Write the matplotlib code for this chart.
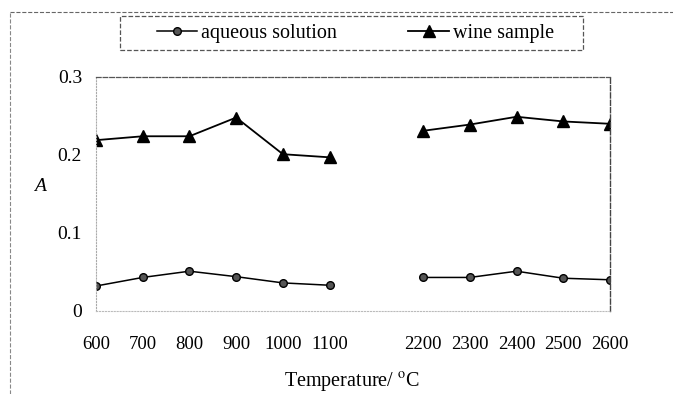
import numpy as np
import matplotlib
matplotlib.use('Agg')
import matplotlib.pyplot as plt
from matplotlib.lines import Line2D
from matplotlib.patches import Rectangle

# data (blank category = gap between the two ranges)
temps = ['600', '700', '800', '900', '1000', '1100', '',
         '2200', '2300', '2400', '2500', '2600']
aqueous = [0.032, 0.043, 0.051, 0.044, 0.036, 0.033, np.nan,
           0.043, 0.043, 0.051, 0.042, 0.040]
wine = [0.219, 0.224, 0.224, 0.248, 0.201, 0.197, np.nan,
        0.231, 0.239, 0.249, 0.243, 0.240]
yticks = [0, 0.1, 0.2, 0.3]
ytick_labels = ['0', '0.1', '0.2', '0.3']

plt.rcParams['font.family'] = ['Liberation Serif', 'DejaVu Serif']
plt.rcParams['mathtext.fontset'] = 'stix'

fig = plt.figure(figsize=(6.73, 3.94), dpi=100)
ax = fig.add_axes([0.1426, 0.2107, 0.7638, 0.5939])

x = np.arange(len(temps))
ax.plot(x, aqueous, color='black', lw=1.1, marker='o', ms=5.5,
        mfc='#555555', mec='black', label='aqueous solution')
ax.plot(x, wine, color='black', lw=1.3, marker='^', ms=8.5,
        label='wine sample')

ax.set_xlim(0, len(temps) - 1)
ax.set_ylim(0, 0.3)
ax.set_xticks(x)
ax.set_xticklabels(temps)
ax.set_yticks(yticks)
ax.set_yticklabels(ytick_labels)
ax.tick_params(axis='x', length=0, pad=18, labelsize=13.5)
ax.tick_params(axis='y', length=0, pad=10, labelsize=14)

# spines look like a faded scan
ax.spines['top'].set_linestyle('--')
ax.spines['top'].set_color('#555555')
ax.spines['top'].set_linewidth(0.9)
ax.spines['right'].set_linestyle('--')
ax.spines['right'].set_color('#444444')
ax.spines['right'].set_linewidth(1.0)
ax.spines['left'].set_linestyle(':')
ax.spines['left'].set_color('#aaaaaa')
ax.spines['bottom'].set_linestyle(':')
ax.spines['bottom'].set_color('#bbbbbb')

ax.set_ylabel('A', style='italic', fontsize=14, rotation=0)
ax.yaxis.set_label_coords(-0.109, 0.496)
ax.set_xlabel('Temperature/ $^{\\mathrm{o}}$C', fontsize=14.5)
ax.xaxis.set_label_coords(0.498, -0.255)

# legend entries without frame, box drawn separately (wide side padding)
leg = ax.legend(loc='center', bbox_to_anchor=(0.528, 0.916),
                bbox_transform=fig.transFigure, ncol=2, frameon=False,
                fontsize=14.5, columnspacing=3.55, handlelength=2.0,
                handletextpad=0.2, borderpad=0.3, borderaxespad=0)
fig.add_artist(Rectangle((120 / 673, 1 - 50 / 394), 463 / 673, 34 / 394,
                         transform=fig.transFigure, fill=False,
                         ls='--', ec='#555555', lw=0.9))

# outer chart-area border (dashed, cut off at right/bottom)
fig.add_artist(Line2D([0.0149, 1.0], [0.9695, 0.9695], transform=fig.transFigure,
                      ls='--', color='#666666', lw=0.8))
fig.add_artist(Line2D([0.0149, 0.0149], [0.0, 0.9695], transform=fig.transFigure,
                      ls='--', color='#888888', lw=0.8))

fig.savefig('out.png', dpi=100)
